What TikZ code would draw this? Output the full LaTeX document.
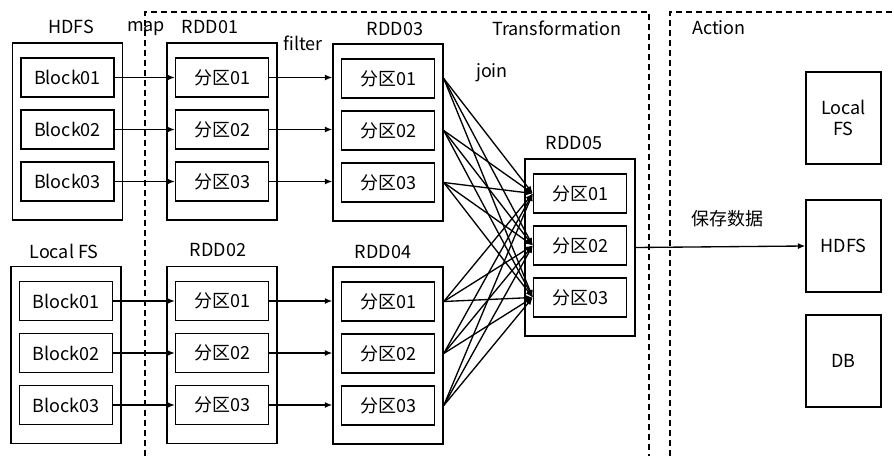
\documentclass[tikz,border=0pt]{standalone}
\usepackage{fontspec}
\setmainfont{Noto Sans CJK SC}
\usetikzlibrary{arrows.meta}

\begin{document}
\begin{tikzpicture}[x=0.75pt, y=-0.75pt, every node/.style={font=\fontsize{13.5}{15.5}\selectfont, inner sep=0pt},
    outer/.style={draw, line width=1.1pt, minimum width=82.5pt, minimum height=132.75pt},
    part/.style={draw, line width=1.1pt, minimum width=69.75pt, minimum height=29.25pt},
    sink/.style={draw, line width=1.1pt, minimum width=56.25pt, minimum height=69pt, align=center},
    arr/.style={line width=1pt, -{Latex[length=5.5pt,width=4.5pt]}},
    zone/.style={line width=1.1pt, dash pattern=on 4.5pt off 3pt}]
    \useasboundingbox (0,0) rectangle (894,456);
    % stage zones
    \draw[zone] (145,456) |- (649,12) -- (649,456);
    \draw[zone] (670,456) |- (894,12);
    \node at (557,28) {Transformation};
    \node at (719,28) {Action};
    % sources and rdds
    \foreach \g/\cx/\cy/\tx/\ty/\ttl/\pre in {hdfs/67.5/131.5/71/27/HDFS/Block, lfs/66/355/64/251/Local FS/Block,
        ra/222/131.5/210/27/RDD01/分区, rb/222/355/218/250/RDD02/分区,
        rc/388/132.5/395/29/RDD03/分区, rd/388/355.5/383/252/RDD04/分区,
        re/580/247.5/574/143/RDD05/分区} {
        \node[outer] (\g) at (\cx,\cy) {};
        \node at (\tx,\ty) {\ttl};
        \foreach \i/\dy in {1/-54,2/-2,3/50}
            \node[part] (\g\i) at (\cx,\cy+\dy) {\pre0\i};
    }
    \node at (146,29) {map};
    \node at (303,43) {filter};
    \node at (492,73) {join};
    % arrows
    \foreach \i in {1,2,3} {
        \draw[arr] (hdfs\i) -- (ra\i);
        \draw[arr] (lfs\i) -- (rb\i);
        \draw[arr] (ra\i) -- (ra\i -| rc.west);
        \draw[arr] (rb\i) -- (rb\i -| rd.west);
        \foreach \j in {1,2,3} {
            \draw[arr] (rc\i -| rc.east) -- (re\j.west);
            \draw[arr] (rd\i -| rd.east) -- (re\j.west);
        }
    }
    % action targets
    \node[sink] (outlfs) at (843.5,118) {Local\\FS};
    \node[sink] (outhdfs) at (843.5,246) {HDFS};
    \node[sink] (outdb) at (843.5,361) {DB};
    \draw[arr] (re.east) -- (outhdfs.west);
    \node at (727,219) {保存数据};
\end{tikzpicture}
\end{document}
